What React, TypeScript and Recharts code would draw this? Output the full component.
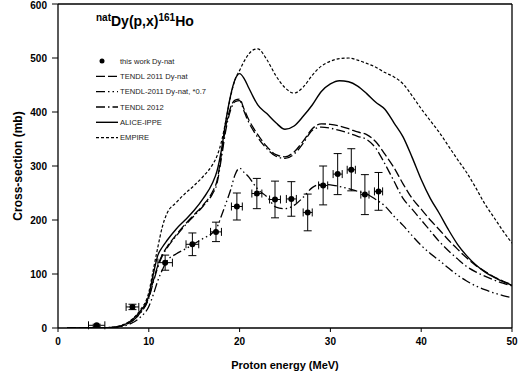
import React from 'react';
import {
  ComposedChart,
  Line,
  Scatter,
  XAxis,
  YAxis,
  ErrorBar,
  ReferenceLine,
  Customized,
} from 'recharts';

// ---------- data ----------
const xTicks = [0, 10, 20, 30, 40, 50];
const yTicks = [0, 100, 200, 300, 400, 500, 600];

// experimental points (this work Dy-nat)
const expE = [4.26, 8.2, 11.8, 14.8, 17.4, 19.7, 21.9, 23.9, 25.7, 27.5, 29.2, 30.8, 32.3, 33.8, 35.3];
const expV = [5, 39, 121, 155, 178, 225, 249, 238, 239, 214, 264, 285, 293, 247, 253];
const expErrV = [2, 5, 14, 21, 18, 25, 28, 34, 32, 34, 36, 38, 39, 37, 35];
const expErrE = [0.9, 0.7, 0.8, 0.7, 0.6, 0.6, 0.55, 0.6, 0.55, 0.5, 0.5, 0.5, 0.45, 0.45, 0.45];

// common energy grid for model curves
const gridE = [1, 3, 5, 6, 7, 8, 9, 10, 10.5, 11, 11.5, 12, 13, 14, 15, 16, 17, 17.5, 18, 18.5, 19, 19.5, 20, 20.5, 21, 21.5, 22, 23, 24, 25, 26, 27, 28, 29, 30, 31, 32, 33, 34, 35, 36, 37, 38, 39, 40, 41, 42, 43, 44, 45, 46, 47, 48, 49, 50];

const tendl2011 = [0, 0, 0.3, 1, 4, 11, 27, 57, 88, 116, 136, 150, 172, 192, 210, 228, 252, 272, 322, 375, 408, 422, 424, 405, 386, 371, 358, 336, 321, 317, 326, 346, 369, 378, 377, 374, 369, 363, 358, 345, 322, 297, 267, 240, 220, 200, 182, 163, 146, 130, 116, 105, 95, 87, 80];
const tendl2011x07 = [0, 0, 0.2, 0.7, 3, 8, 19, 40, 62, 88, 108, 124, 137, 146, 156, 166, 176, 186, 208, 231, 255, 284, 296, 288, 280, 268, 257, 243, 224, 221, 227, 242, 260, 266, 265, 262, 258, 253, 248, 238, 226, 207, 190, 171, 153, 138, 125, 111, 98, 87, 78, 71, 65, 60, 56];
const tendl2012 = [0, 0, 0.3, 1, 4, 11, 26, 55, 85, 113, 134, 148, 170, 190, 208, 226, 248, 267, 315, 368, 403, 419, 421, 401, 381, 366, 353, 332, 318, 314, 322, 342, 366, 372, 370, 366, 361, 355, 349, 333, 304, 272, 240, 220, 200, 180, 160, 143, 128, 114, 104, 96, 89, 83, 78];
const aliceIppe = [0, 0, 0.3, 1, 4, 13, 30, 60, 100, 135, 150, 162, 183, 200, 218, 240, 268, 290, 330, 385, 430, 460, 471, 462, 445, 428, 413, 397, 380, 368, 374, 392, 413, 438, 452, 458, 456, 448, 434, 418, 405, 380, 354, 316, 275, 240, 212, 182, 155, 134, 117, 104, 94, 86, 79];
const empire = [0, 0, 0.5, 1.5, 5, 14, 32, 66, 108, 150, 188, 212, 232, 249, 264, 281, 302, 318, 345, 385, 428, 460, 477, 494, 507, 515, 517, 497, 467, 445, 435, 446, 468, 485, 494, 499, 500, 496, 490, 483, 473, 465, 452, 430, 406, 384, 362, 337, 312, 288, 260, 230, 205, 180, 157];

const legendLabels = [
  'this work Dy-nat',
  'TENDL 2011 Dy-nat',
  'TENDL-2011 Dy-nat, *0.7',
  'TENDL 2012',
  'ALICE-IPPE',
  'EMPIRE',
];

// ---------- helpers ----------
const toSeries = (vals: number[]) => gridE.map((e, i) => ({ e, v: vals[i] }));
const expData = expE.map((e, i) => ({ e, v: expV[i], ey: expErrV[i], ex: expErrE[i] }));

const FONT = 'Arial, "Liberation Sans", Helvetica, sans-serif';

const styles = {
  tendl2011: { dash: '9 3', width: 1.3 },
  tendl2011x07: { dash: '9 3 1.5 3 1.5 3', width: 1.3 },
  tendl2012: { dash: '9 3 1.5 3', width: 1.3 },
  alice: { dash: undefined as string | undefined, width: 1.4 },
  empire: { dash: '3 2', width: 1.2 },
};

const legendStyles = [null, styles.tendl2011, styles.tendl2011x07, styles.tendl2012, styles.alice, styles.empire];

const XLabel = (props: any) => {
  const vb = props.viewBox || { x: 58, y: 328, width: 454, height: 49 };
  return (
    <text
      x={vb.x + vb.width / 2}
      y={vb.y + vb.height - 8}
      textAnchor="middle"
      fontFamily={FONT}
      fontSize={11}
      fontWeight={700}
      fill="#000"
    >
      Proton energy (MeV)
    </text>
  );
};

const YLabel = (props: any) => {
  const vb = props.viewBox || { x: 0, y: 4, width: 58, height: 324 };
  const cy = vb.y + vb.height / 2;
  return (
    <text
      transform={`translate(22, ${cy}) rotate(-90)`}
      textAnchor="middle"
      fontFamily={FONT}
      fontSize={12}
      fontWeight={700}
      fill="#000"
    >
      Cross-section (mb)
    </text>
  );
};

const Overlay = () => {
  const ys = [61, 76.3, 91.7, 107, 122.3, 137.7];
  return (
    <g>
      <text x={96} y={26} fontFamily={FONT} fontWeight={700} fontSize={14} fill="#000">
        <tspan fontSize={10} dy={-5}>nat</tspan>
        <tspan dy={5}>Dy(p,x)</tspan>
        <tspan fontSize={10} dy={-5}>161</tspan>
        <tspan dy={5}>Ho</tspan>
      </text>
      {legendLabels.map((lab, i) => {
        const st = legendStyles[i];
        const y = ys[i];
        return (
          <g key={lab}>
            {st ? (
              <line x1={96} x2={118} y1={y} y2={y} stroke="#000" strokeWidth={st.width} strokeDasharray={st.dash} />
            ) : (
              <circle cx={102} cy={y} r={2.5} fill="#000" />
            )}
            <text x={120} y={y + 2.7} fontFamily={FONT} fontSize={7.6} fill="#222">
              {lab}
            </text>
          </g>
        );
      })}
    </g>
  );
};

const Dot = (props: any) => {
  const { cx, cy } = props;
  if (cx == null || cy == null) return null;
  return <circle cx={cx} cy={cy} r={3} fill="#000" />;
};

const tickStyle = { fontSize: 10, fontWeight: 700, fill: '#000', fontFamily: FONT };

export default function App() {
  return (
    <div style={{ position: 'absolute', left: 0, top: 0, width: 518, height: 377, background: '#fff' }}>
      <ComposedChart width={518} height={377} margin={{ top: 4, right: 6, bottom: 0, left: 0 }}>
        <XAxis
          type="number"
          dataKey="e"
          domain={[0, 50]}
          ticks={xTicks}
          allowDataOverflow
          height={49}
          tickSize={4}
          tickMargin={6}
          tick={tickStyle}
          stroke="#000"
          axisLine={{ stroke: '#000', strokeWidth: 1.3 }}
          tickLine={{ stroke: '#000' }}
          label={<XLabel />}
        />
        <YAxis
          type="number"
          domain={[0, 600]}
          ticks={yTicks}
          allowDataOverflow
          width={58}
          tickSize={6}
          tickMargin={5}
          tick={tickStyle}
          stroke="#000"
          axisLine={{ stroke: '#000', strokeWidth: 1.3 }}
          tickLine={{ stroke: '#000' }}
          label={<YLabel />}
        />
        <ReferenceLine y={600} stroke="#000" strokeWidth={1.3} />
        <ReferenceLine x={50} stroke="#000" strokeWidth={1.3} />
        <Line data={toSeries(empire)} dataKey="v" type="monotone" stroke="#000" strokeWidth={styles.empire.width} strokeDasharray={styles.empire.dash} dot={false} activeDot={false} isAnimationActive={false} />
        <Line data={toSeries(aliceIppe)} dataKey="v" type="monotone" stroke="#000" strokeWidth={styles.alice.width} dot={false} activeDot={false} isAnimationActive={false} />
        <Line data={toSeries(tendl2011)} dataKey="v" type="monotone" stroke="#000" strokeWidth={styles.tendl2011.width} strokeDasharray={styles.tendl2011.dash} dot={false} activeDot={false} isAnimationActive={false} />
        <Line data={toSeries(tendl2012)} dataKey="v" type="monotone" stroke="#000" strokeWidth={styles.tendl2012.width} strokeDasharray={styles.tendl2012.dash} dot={false} activeDot={false} isAnimationActive={false} />
        <Line data={toSeries(tendl2011x07)} dataKey="v" type="monotone" stroke="#000" strokeWidth={styles.tendl2011x07.width} strokeDasharray={styles.tendl2011x07.dash} dot={false} activeDot={false} isAnimationActive={false} />
        <Scatter data={expData} dataKey="v" fill="#000" shape={<Dot />} isAnimationActive={false}>
          <ErrorBar dataKey="ey" direction="y" width={4} stroke="#000" strokeWidth={1} isAnimationActive={false} />
          <ErrorBar dataKey="ex" direction="x" width={4} stroke="#000" strokeWidth={1} isAnimationActive={false} />
        </Scatter>
        <Customized component={Overlay} />
      </ComposedChart>
    </div>
  );
}
